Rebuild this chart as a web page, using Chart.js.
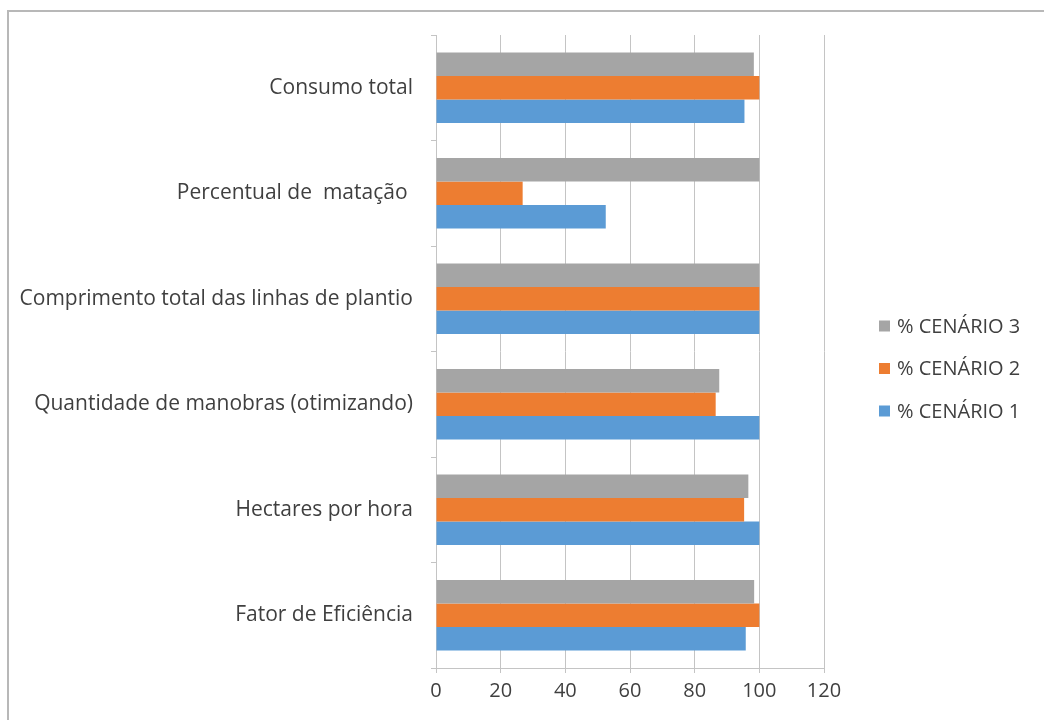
<!DOCTYPE html>
<html>
<head>
<meta charset="utf-8">
<script src="https://cdn.jsdelivr.net/npm/chart.js@4/dist/chart.umd.min.js"></script>
<style>
  html, body { margin: 0; padding: 0; background: #ffffff; }
  #wrap { position: relative; width: 1044px; height: 720px; overflow: hidden; }
  #frame { position: absolute; left: 7px; top: 10px; width: 1100px; height: 800px;
           border-left: 2px solid #b8b8b8; border-top: 2px solid #b8b8b8; box-sizing: border-box; }
  #grafico { position: absolute; left: 0; top: 0; }
</style>
</head>
<body>
<div id="wrap">
  <div id="frame"></div>
  <canvas id="grafico" width="1044" height="720"></canvas>
</div>
<script>
// Indicadores, de cima para baixo
const categorias = [
  'Consumo total',
  'Percentual de  matação ',
  'Comprimento total das linhas de plantio',
  'Quantidade de manobras (otimizando)',
  'Hectares por hora',
  'Fator de Eficiência'
];

// Séries na ordem em que aparecem dentro de cada grupo (de cima para baixo)
const nomesSeries = ['% CENÁRIO 3', '% CENÁRIO 2', '% CENÁRIO 1'];
const coresSeries = ['#a5a5a5', '#ed7d31', '#5b9bd5'];

const cenario3 = [98.3, 100, 100, 87.6, 96.6, 98.4];
const cenario2 = [100, 26.8, 100, 86.5, 95.3, 100];
const cenario1 = [95.4, 52.5, 100, 100, 100, 95.8];

const ticksX = [0, 20, 40, 60, 80, 100, 120];

const valoresSeries = [cenario3, cenario2, cenario1];

const corTexto = '#3f3f3f';
const corGrade = '#c4c4c4';
const fonte = '"Open Sans", sans-serif';

// Legenda à direita, na mesma ordem das barras
const legendaLateral = {
  id: 'legendaLateral',
  afterDraw(chart, args, opts) {
    const ctx = chart.ctx;
    ctx.save();
    ctx.font = opts.fontSize + 'px ' + fonte;
    ctx.textBaseline = 'middle';
    ctx.textAlign = 'left';
    chart.data.datasets.forEach((d, i) => {
      const y = opts.top + i * opts.spacing;
      ctx.fillStyle = d.backgroundColor;
      ctx.fillRect(opts.left, y - opts.box / 2, opts.box, opts.box);
      ctx.fillStyle = corTexto;
      ctx.fillText(d.label, opts.left + opts.box + opts.gap, y + 1);
    });
    ctx.restore();
  }
};

new Chart(document.getElementById('grafico'), {
  type: 'bar',
  data: {
    labels: categorias,
    datasets: valoresSeries.map((v, i) => ({
      label: nomesSeries[i],
      data: v,
      backgroundColor: coresSeries[i],
      borderWidth: 0,
      categoryPercentage: 0.667,
      barPercentage: 1.0
    }))
  },
  options: {
    indexAxis: 'y',
    responsive: false,
    animation: false,
    layout: { padding: { top: 35, right: 220, bottom: 0, left: 0 } },
    plugins: {
      legend: { display: false },
      tooltip: { enabled: false },
      legendaLateral: { left: 879, top: 326, spacing: 42.5, box: 11, gap: 7, fontSize: 20 }
    },
    scales: {
      x: {
        min: 0,
        max: 120,
        afterBuildTicks(scale) { scale.ticks = ticksX.map(v => ({ value: v })); },
        afterFit(scale) { scale.height = 52; },
        grid: { color: corGrade, lineWidth: 1, drawTicks: true, tickLength: 5, tickColor: corGrade },
        border: { display: true, color: corGrade, width: 1 },
        ticks: { color: corTexto, font: { family: fonte, size: 20 }, padding: 6, maxRotation: 0 }
      },
      y: {
        afterFit(scale) { scale.width = 436; },
        grid: { display: true, drawOnChartArea: false, offset: true, drawTicks: true, tickLength: 5, color: corGrade },
        border: { display: true, color: corGrade, width: 1 },
        ticks: { color: corTexto, font: { family: fonte, size: 21 }, padding: 18, autoSkip: false }
      }
    }
  },
  plugins: [legendaLateral]
});
</script>
</body>
</html>
